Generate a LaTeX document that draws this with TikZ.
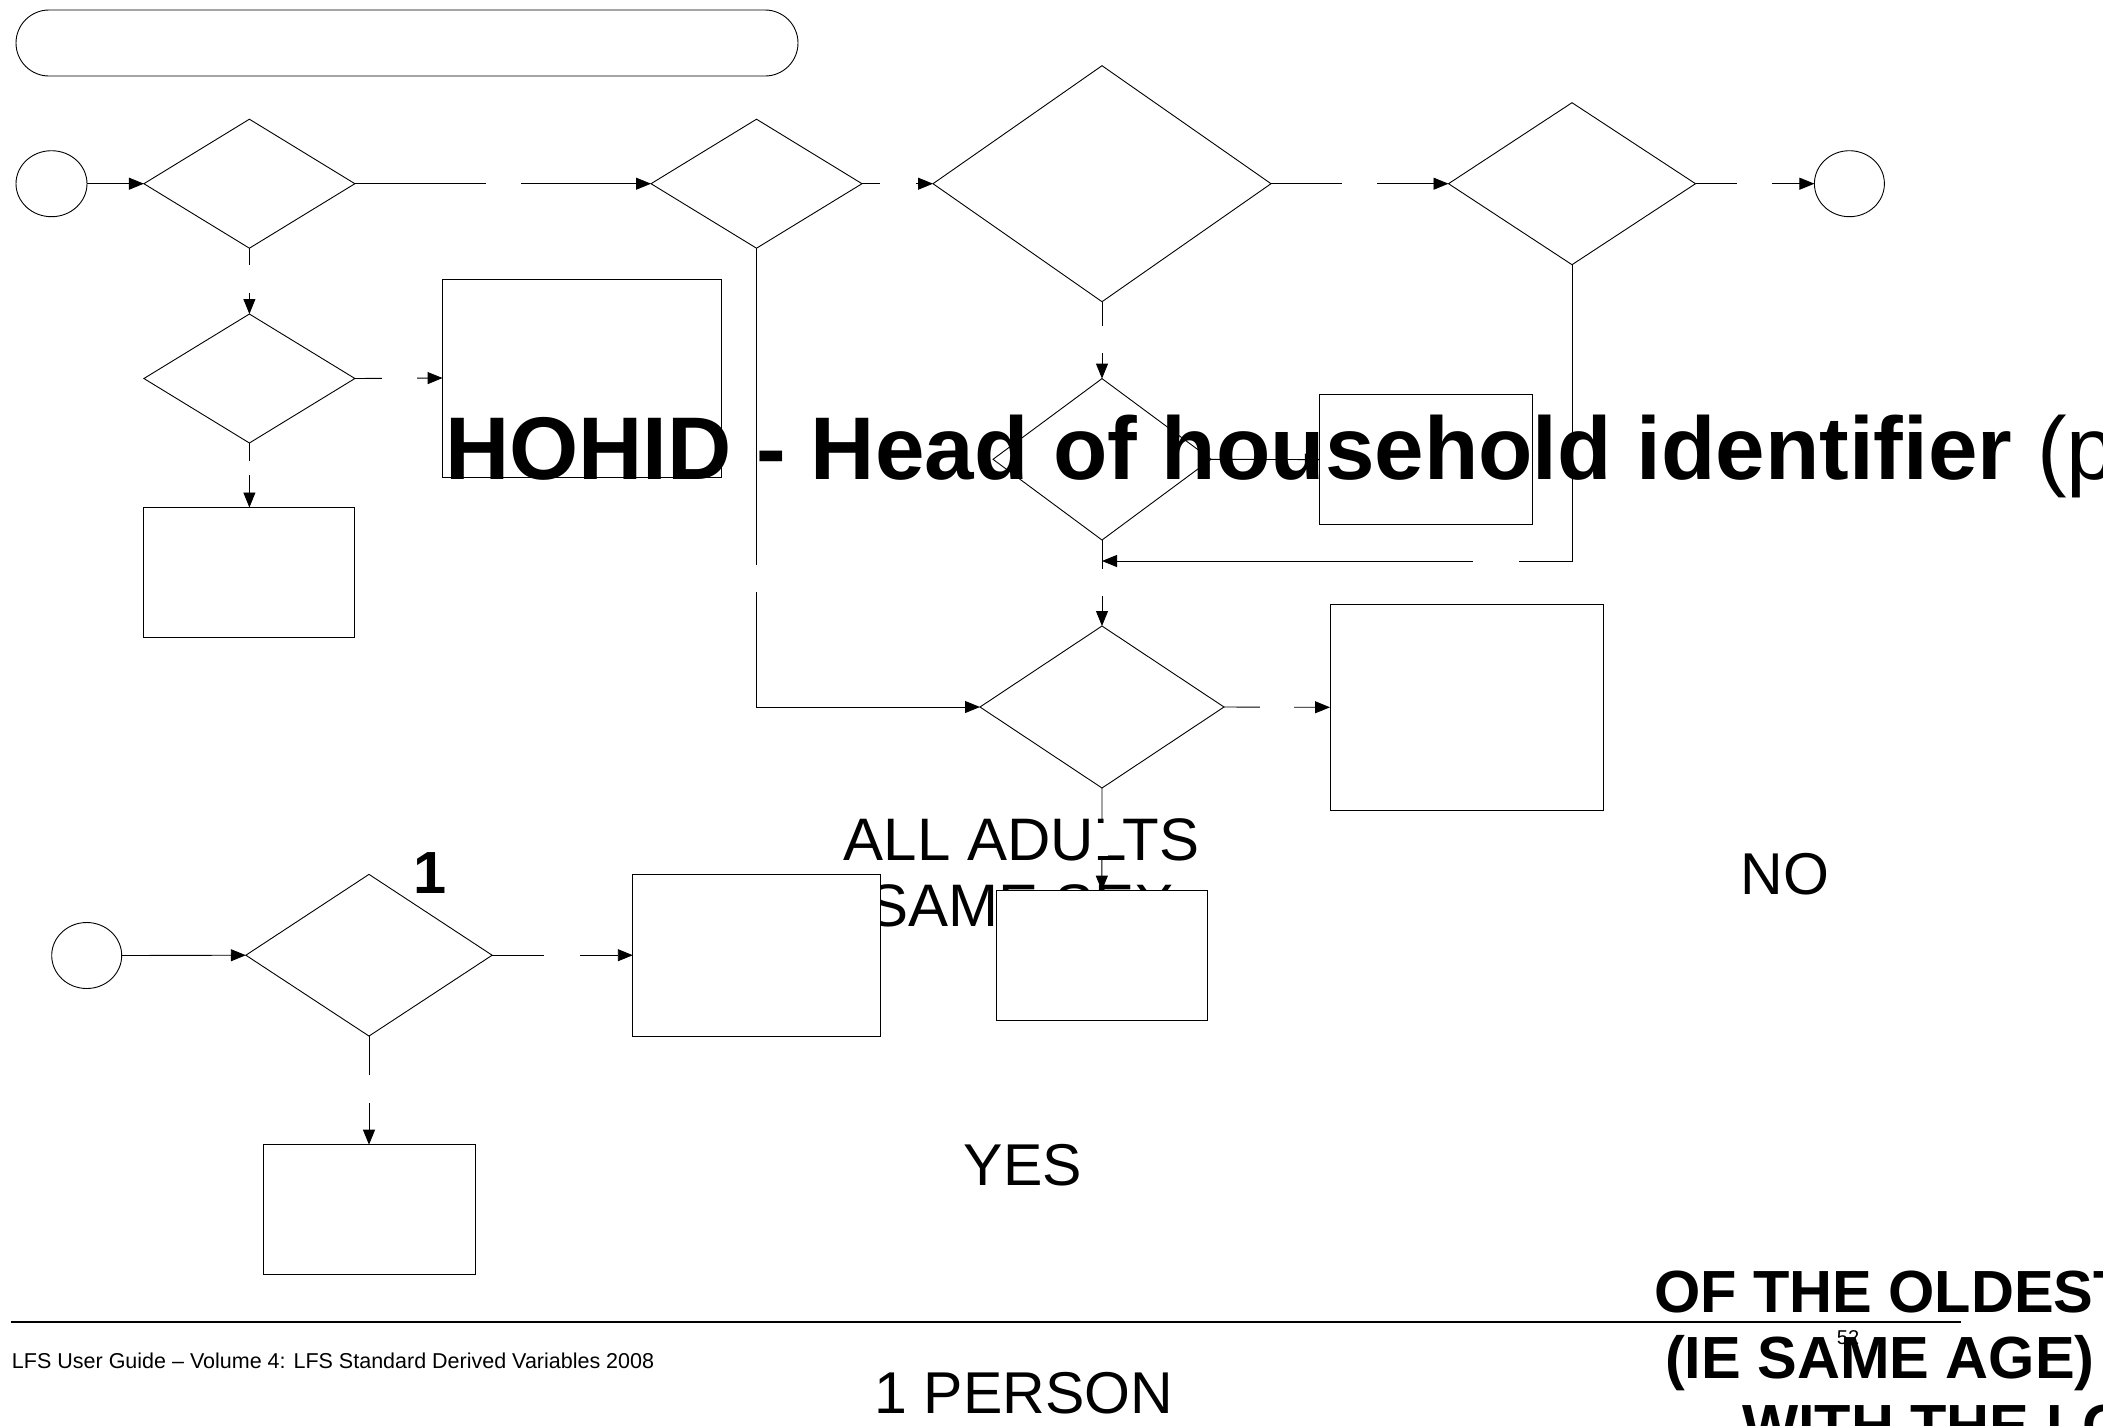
\documentclass[tikz,border=0pt]{standalone}
\usepackage{fontspec}
\setmainfont{Liberation Sans}
\usetikzlibrary{shapes.geometric,arrows.meta}
\begin{document}
\begin{tikzpicture}[x=1pt,y=-1pt,
  every node/.style={inner sep=0pt,outer sep=0pt},
  dia/.style={draw,shape=diamond,fill=white,line width=0.9pt},
  box/.style={draw,rectangle,fill=white,line width=0.9pt},
  term/.style={draw,ellipse,fill=white,line width=0.9pt,minimum width=71pt,minimum height=66pt},
  conn/.style={line width=0.9pt,-{Triangle[length=15pt,width=12pt]}},
  gap/.style={fill=white,draw=none},
  big/.style={font=\fontsize{59}{66}\selectfont},
  bigb/.style={font=\fontsize{59.5}{66}\selectfont\bfseries},
  small/.style={font=\fontsize{21.5}{24}\selectfont}]
\useasboundingbox (0,0) rectangle (2103,1425);
\clip (0,0) rectangle (2103,1425);
\fill[white] (0,0) rectangle (2103,1425);

% text partly hidden by shapes
\node[font=\fontsize{60}{66}\selectfont,anchor=base] (t1) at (1021.5,860) {ALL ADULTS};
\node[font=\fontsize{60}{66}\selectfont,anchor=base] (t2) at (1021.5,926.7) {SAME SEX};

% shapes
\node[box,rounded corners=33pt,minimum width=782pt,minimum height=66pt] (title0) at (407,43) {};
\node[term] (e1) at (51.5,183.7) {};
\node[dia,minimum width=211pt,minimum height=129pt] (d1) at (249.4,183.7) {};
\node[dia,minimum width=211pt,minimum height=129pt] (d2) at (756.5,183.7) {};
\node[dia,minimum width=338pt,minimum height=236pt] (d3) at (1102,183.7) {};
\node[dia,minimum width=247pt,minimum height=162pt] (d5) at (1572,183.7) {};
\node[term,minimum width=70pt] (e2) at (1849.4,183.7) {};
\node[dia,minimum width=211pt,minimum height=129pt] (d4) at (249.4,378.5) {};
\node[box,minimum width=278.4pt,minimum height=198pt] (b1) at (581.8,378) {};
\node[box,minimum width=211pt,minimum height=130pt] (b2) at (249.4,572.5) {};
\node[dia,minimum width=218pt,minimum height=161.4pt] (d6) at (1102,459.3) {};
\node[box,minimum width=212.5pt,minimum height=130pt] (b3) at (1426,459.6) {};
\node[dia,minimum width=244pt,minimum height=162pt] (d7) at (1102,707) {};
\node[box,minimum width=273pt,minimum height=205.5pt] (b4) at (1466.5,707.3) {};
\node[box,minimum width=211.7pt,minimum height=129.3pt] (b5) at (1101.8,955.3) {};
\node[term,minimum width=70pt] (e3) at (86.7,955.5) {};
\node[dia,minimum width=246.3pt,minimum height=161.7pt] (d8) at (369,955.2) {};
\node[box,minimum width=247.6pt,minimum height=161.7pt] (b6) at (756.6,955.2) {};
\node[box,minimum width=212pt,minimum height=130pt] (b7) at (369,1209.7) {};
\coordinate (j) at (1102,561);

% connectors
\draw[conn] (e1.east) -- (d1.west);
\draw[conn] (d1.east) -- (d2.west);
\draw[conn] (d2.east) -- (d3.west);
\draw[conn] (d3.east) -- (d5.west);
\draw[conn] (d5.east) -- (e2.west);
\draw[conn] (d1.south) -- (d4.north);
\draw[conn] (d4.east) -- (b1.west);
\draw[conn] (d4.south) -- (b2.north);
\draw[conn] (d2.south) |- (d7.west);
\draw[conn] (d3.south) -- (d6.north);
\draw[conn] (d6.east) -- (b3.west);
\draw[conn] (d5.south) |- (j);
\draw[conn] (d6.south) -- (d7.north);
\draw[conn] (d7.east) -- (b4.west);
\draw[conn] (d7.south) -- (b5.north);
\draw[conn] (e3.east) -- (d8.west);
\draw[conn] (d8.east) -- (b6.west);
\draw[conn] (d8.south) -- (b7.north);

% label gaps on connectors
\fill[gap] (486,176) rectangle (521,191);
\fill[gap] (880,176) rectangle (915.5,191);
\fill[gap] (1342,176) rectangle (1377,191);
\fill[gap] (1736.5,176) rectangle (1771.7,191);
\fill[gap] (242,265) rectangle (257,293);
\fill[gap] (382,371) rectangle (416.7,386);
\fill[gap] (242,460.7) rectangle (257,475);
\fill[gap] (749,564.7) rectangle (764,591.5);
\fill[gap] (1095,326) rectangle (1109,352.7);
\fill[gap] (1473,554) rectangle (1519,568);
\fill[gap] (1095,569) rectangle (1109,596);
\fill[gap] (1260,700) rectangle (1294,714);
\fill[gap] (1094,823) rectangle (1108,856);
\fill[gap] (544.4,948) rectangle (579.5,962);
\fill[gap] (362,1075.4) rectangle (376,1103);

% footer rule
\coordinate (f1) at (10.7,1321.7);
\coordinate (f2) at (1961,1321.7);
\draw[line width=1.7pt] (f1) -- (f2);

% texts
\node[anchor=base west,font=\fontsize{89}{100}\selectfont] (hohid) at (445,479) {\bfseries HOHID - Head of household identifier \mdseries(p};
\node[bigb,anchor=base] (one) at (430,893.3) {1};
\node[big,anchor=base] (no) at (1785,894) {NO};
\node[big,anchor=base] (yes) at (1023,1185) {YES};
\node[big,anchor=base] (person) at (1024,1413.3) {1 PERSON};
\node[bigb,anchor=base west] (o1) at (1654,1312.3) {OF THE OLDEST};
\node[bigb,anchor=base west] (o2) at (1665,1378.3) {(IE SAME AGE)};
\node[bigb,anchor=base west] (o3) at (1742,1446) {WITH THE LO};
\node[small,anchor=base west] (foot) at (12,1368) {LFS User Guide – Volume 4: LFS Standard Derived Variables 2008};
\node[anchor=base,font=\fontsize{20}{22}\selectfont] (page) at (1848,1344.3) {52};
\end{tikzpicture}
\end{document}
